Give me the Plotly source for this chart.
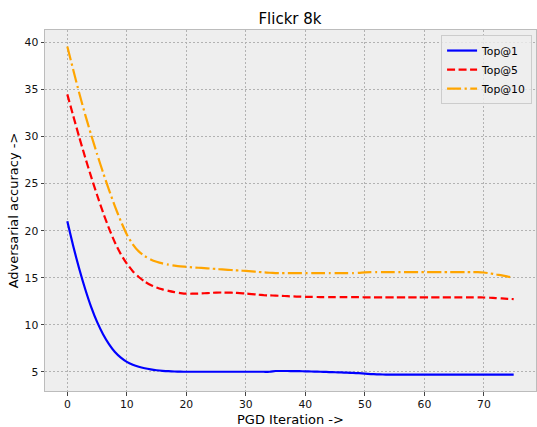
import plotly.graph_objects as go

iterations = list(range(0, 76))

top1 = [21.0, 18.35, 15.95, 13.8, 11.9, 10.3, 9.0, 7.95, 7.1, 6.5,
        6.05, 5.75, 5.53, 5.37, 5.25, 5.16, 5.1, 5.06, 5.03, 5.01,
        5.0, 5.0, 5.0, 5.0, 5.0, 5.0, 5.0, 5.0, 5.0, 5.0,
        5.0, 5.0, 5.0, 5.0, 5.0, 5.08, 5.08, 5.08, 5.07, 5.06,
        5.05, 5.03, 5.01, 4.99, 4.97, 4.95, 4.93, 4.9, 4.88, 4.85,
        4.8, 4.76, 4.73, 4.71, 4.7, 4.7, 4.7, 4.7, 4.7, 4.7,
        4.7, 4.7, 4.7, 4.7, 4.7, 4.7, 4.7, 4.7, 4.7, 4.7,
        4.7, 4.7, 4.7, 4.7, 4.7, 4.7]

top5 = [34.5, 32.2, 29.95, 27.8, 25.75, 23.8, 21.95, 20.25, 18.75, 17.5,
        16.5, 15.7, 15.08, 14.6, 14.23, 13.96, 13.76, 13.6, 13.47, 13.37,
        13.3, 13.3, 13.32, 13.35, 13.38, 13.42, 13.43, 13.42, 13.4, 13.36,
        13.32, 13.26, 13.2, 13.15, 13.12, 13.1, 13.07, 13.04, 13.01, 12.99,
        12.97, 12.96, 12.95, 12.93, 12.93, 12.93, 12.93, 12.93, 12.93, 12.93,
        12.92, 12.92, 12.92, 12.92, 12.92, 12.92, 12.92, 12.92, 12.92, 12.92,
        12.92, 12.92, 12.92, 12.92, 12.92, 12.92, 12.92, 12.92, 12.92, 12.92,
        12.9, 12.87, 12.83, 12.8, 12.76, 12.73]

top10 = [39.6, 37.1, 34.65, 32.35, 30.2, 28.15, 26.2, 24.35, 22.6, 21.0,
         19.6, 18.55, 17.8, 17.3, 16.95, 16.7, 16.52, 16.39, 16.29, 16.21,
         16.16, 16.1, 16.06, 16.02, 15.98, 15.93, 15.88, 15.84, 15.8, 15.76,
         15.72, 15.67, 15.62, 15.57, 15.53, 15.5, 15.49, 15.49, 15.49, 15.49,
         15.49, 15.49, 15.49, 15.49, 15.49, 15.49, 15.49, 15.49, 15.49, 15.52,
         15.58, 15.6, 15.6, 15.6, 15.6, 15.6, 15.6, 15.6, 15.6, 15.6,
         15.6, 15.6, 15.6, 15.6, 15.6, 15.6, 15.6, 15.6, 15.6, 15.6,
         15.56, 15.47, 15.35, 15.25, 15.12, 15.0]

series_names = ["Top@1", "Top@5", "Top@10"]
x_ticks = [0, 10, 20, 30, 40, 50, 60, 70]
y_ticks = [5, 10, 15, 20, 25, 30, 35, 40]

FONT = "DejaVu Sans"

fig = go.Figure()
fig.add_trace(go.Scatter(x=iterations, y=top1, mode="lines", name=series_names[0],
                         line=dict(color="#0000ff", width=2.2, shape="spline", smoothing=0.6)))
fig.add_trace(go.Scatter(x=iterations, y=top5, mode="lines", name=series_names[1],
                         line=dict(color="#ff0000", width=2.2, dash="8px,3.5px",
                                   shape="spline", smoothing=0.6)))
fig.add_trace(go.Scatter(x=iterations, y=top10, mode="lines", name=series_names[2],
                         line=dict(color="#ffa500", width=2.2, dash="14px,3.5px,2.2px,3.5px",
                                   shape="spline", smoothing=0.6)))

all_y = top1 + top5 + top10
ymin, ymax = min(all_y), max(all_y)
ypad = 0.05 * (ymax - ymin)
xmin, xmax = min(iterations), max(iterations)
xpad = 0.05 * (xmax - xmin)

axis_common = dict(
    showgrid=True, gridcolor="#b2b2b2", gridwidth=1, griddash="2px,2px",
    showline=True, linecolor="#bcbcbc", linewidth=1, mirror=True,
    ticks="outside", ticklen=3.5, tickwidth=1, tickcolor="#444444",
    tickfont=dict(family=FONT, size=10.8, color="#111111"),
    zeroline=False,
)

fig.update_layout(
    width=537, height=427,
    margin=dict(l=45, r=1, t=30, b=36),
    paper_bgcolor="white", plot_bgcolor="#eeeeee",
    title=dict(text="Flickr 8k", x=0.54, xanchor="center", y=0.955, yanchor="middle",
               font=dict(family=FONT, size=15, color="#000000")),
    xaxis=dict(range=[xmin - xpad, xmax + xpad], tickvals=x_ticks,
               title=dict(text="PGD Iteration ->", standoff=4,
                          font=dict(family=FONT, size=13, color="#000000")),
               **axis_common),
    yaxis=dict(range=[ymin - ypad, ymax + ypad], tickvals=y_ticks,
               title=dict(text="Adversarial accuracy ->", standoff=3,
                          font=dict(family=FONT, size=13, color="#000000")),
               **axis_common),
    legend=dict(x=0.992, y=0.986, xanchor="right", yanchor="top",
                bgcolor="rgba(238,238,238,0.8)", bordercolor="#cccccc", borderwidth=1,
                font=dict(family=FONT, size=10.8, color="#000000"),
                itemwidth=30, tracegroupgap=0),
    showlegend=True,
)

fig.write_html("out.html")
